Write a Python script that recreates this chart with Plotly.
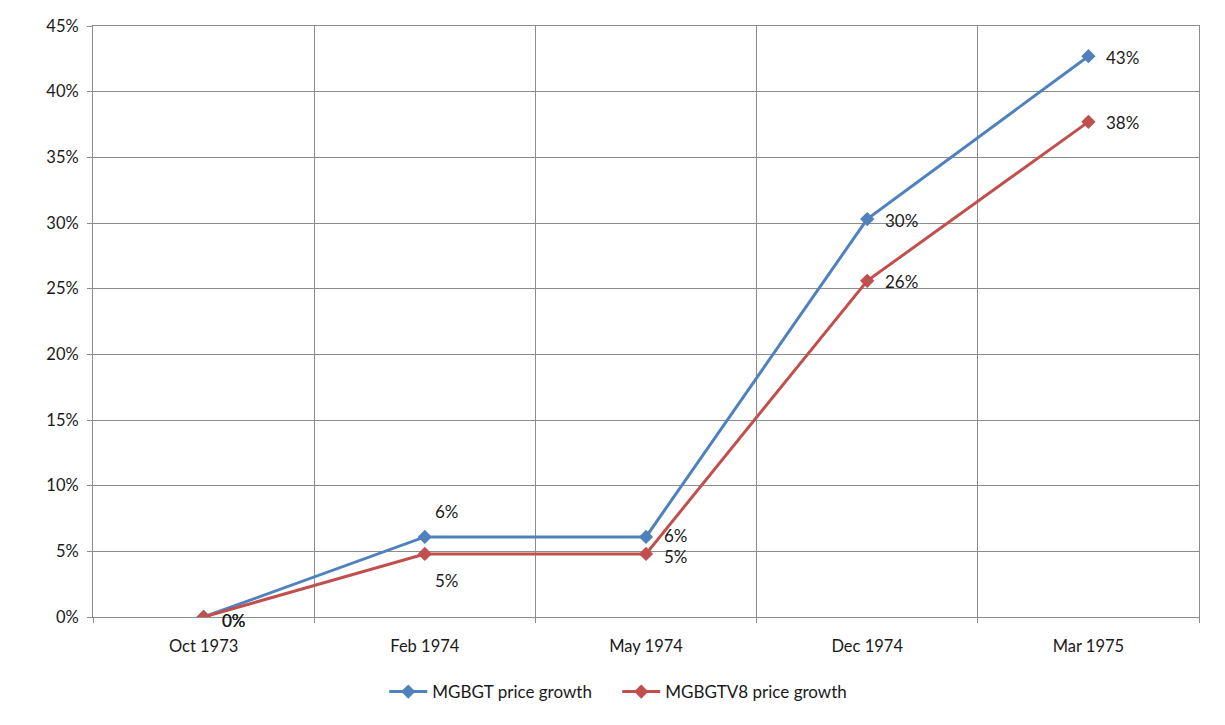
import plotly.graph_objects as go

categories = ["Oct 1973", "Feb 1974", "May 1974", "Dec 1974", "Mar 1975"]
mgbgt = [0.0, 0.061, 0.061, 0.303, 0.427]
mgbgtv8 = [0.0, 0.048, 0.048, 0.256, 0.377]
y_ticks = [0, 0.05, 0.10, 0.15, 0.20, 0.25, 0.30, 0.35, 0.40, 0.45]

idx = list(range(len(categories)))
bounds = [i - 0.5 for i in range(len(categories) + 1)]

FONT = "Lato"
BLUE = "#4F81BD"
RED = "#C0504D"
GRID = "#8C8C8C"
TXT = "#1A1A1A"

fig = go.Figure()
fig.add_trace(go.Scatter(
    x=idx, y=mgbgt, mode="lines+markers", name="MGBGT price growth",
    line=dict(color=BLUE, width=3), marker=dict(symbol="diamond", size=11, color=BLUE),
))
fig.add_trace(go.Scatter(
    x=idx, y=mgbgtv8, mode="lines+markers", name="MGBGTV8 price growth",
    line=dict(color=RED, width=3), marker=dict(symbol="diamond", size=11, color=RED),
))
# invisible trace for the category-boundary grid axis
fig.add_trace(go.Scatter(x=[bounds[0]], y=[0], xaxis="x2", mode="markers",
                         marker=dict(opacity=0), showlegend=False, hoverinfo="skip"))

# data labels (Excel-style placement)
annotations = []
def add_labels(vals, special_shift, may_shift):
    for i, v in enumerate(vals):
        if i == 1:
            xa, xs, ys = "center", 22, special_shift
        else:
            xa, xs = "left", 16
            ys = -3 if i == 0 else (may_shift if i == 2 else -1)
        annotations.append(dict(x=idx[i], y=v, xref="x", yref="y", text=f"{v:.0%}",
                                showarrow=False, xanchor=xa, yanchor="middle",
                                xshift=xs, yshift=ys,
                                font=dict(family=FONT, size=17, color=TXT)))
add_labels(mgbgt, 25, 1)
add_labels(mgbgtv8, -27, -3)

rng = [bounds[0], bounds[-1]]
fig.update_layout(
    width=1225, height=725,
    margin=dict(l=85, r=34, t=18, b=116, autoexpand=False),
    paper_bgcolor="white", plot_bgcolor="white",
    font=dict(family=FONT, size=16.5, color=TXT),
    annotations=annotations,
    xaxis=dict(range=rng, tickvals=idx, ticktext=categories, showgrid=False,
               zeroline=False, ticks="", ticklabelstandoff=14, automargin=False,
               showline=True, linecolor=GRID, linewidth=1, mirror=True),
    xaxis2=dict(range=rng, overlaying="x", side="bottom", tickvals=bounds,
                showticklabels=False, showgrid=True, gridcolor=GRID, gridwidth=1,
                ticks="outside", ticklen=5, tickcolor=GRID, zeroline=False, automargin=False),
    yaxis=dict(range=[0, 0.45], tickvals=y_ticks, tickformat=".0%", automargin=False,
               showgrid=True, gridcolor=GRID, gridwidth=1, zeroline=False,
               ticks="outside", ticklen=5, tickcolor=GRID, ticklabelstandoff=5,
               showline=True, linecolor=GRID, linewidth=1, mirror=True),
    legend=dict(orientation="h", x=0.474, xanchor="center", y=-0.127, yanchor="middle",
                font=dict(family=FONT, size=17, color=TXT), itemwidth=38,
                entrywidth=180, entrywidthmode="pixels"),
    showlegend=True,
    shapes=[dict(type="rect", xref="paper", yref="paper", x0=-0.0796, x1=1.0208,
                 y0=-0.3, y1=1.0389, line=dict(color="#C8C8C8", width=1.5),
                 fillcolor="rgba(0,0,0,0)", layer="above")],
)

fig.write_html("out.html")
